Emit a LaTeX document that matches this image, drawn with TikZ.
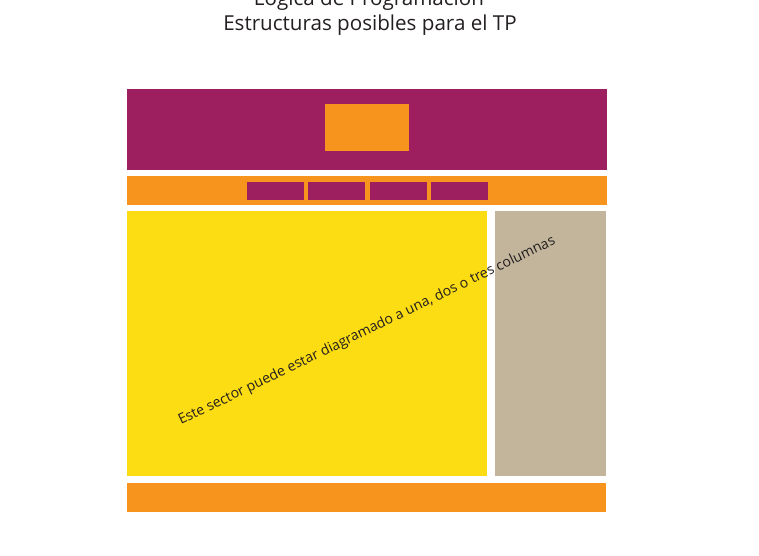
\documentclass[tikz,border=0pt]{standalone}
\usepackage{fontspec}
\setmainfont{Open Sans}
\definecolor{violeta}{HTML}{9E1F5F}
\definecolor{naranja}{HTML}{F7941E}
\definecolor{amarillo}{HTML}{FCDC12}
\definecolor{arena}{HTML}{C2B59B}
\definecolor{tinta}{HTML}{231F20}
\begin{document}
\begin{tikzpicture}[x=1pt,y=-1pt]
			% Styles (MODIFIABLES)
			\tikzstyle{bloc}=[anchor=north west,inner sep=0pt,outer sep=0pt]
			\tikzstyle{titre}=[text=tinta,font=\fontsize{20.6}{24}\selectfont,anchor=base,inner sep=0pt]
			\tikzstyle{commentaire}=[text=tinta,font=\fontsize{14.1}{16}\selectfont,inner sep=0pt]
			% Dimensions (MODIFIABLES)
			\def\Gauche{127}
			\def\Largeur{480}
			\def\LargeurBouton{57}
			% Cadre
			\useasboundingbox (0,0) rectangle (759,555);
			\clip (0,0) rectangle (759,555);
			% Titre
			\node[titre] (titreA) at (369,5) {Lógica de Programación};
			\node[titre] (titreB) at (370,30) {Estructuras posibles para el TP};
			% Blocs
			\node[bloc,fill=violeta,minimum width=\Largeur,minimum height=81] (entete) at (\Gauche,89) {};
			\node[bloc,fill=naranja,minimum width=84,minimum height=47] (logo) at (325,104) {};
			\node[bloc,fill=naranja,minimum width=\Largeur,minimum height=29] (menu) at (\Gauche,176) {};
			\node[bloc,fill=violeta,minimum width=\LargeurBouton,minimum height=18] (boutonA) at (247,182) {};
			\node[bloc,fill=violeta,minimum width=\LargeurBouton,minimum height=18] (boutonB) at (308,182) {};
			\node[bloc,fill=violeta,minimum width=\LargeurBouton,minimum height=18] (boutonC) at (370,182) {};
			\node[bloc,fill=violeta,minimum width=\LargeurBouton,minimum height=18] (boutonD) at (431,182) {};
			\node[bloc,fill=amarillo,minimum width=360,minimum height=265] (contenu) at (\Gauche,211) {};
			\node[bloc,fill=arena,minimum width=111,minimum height=265] (lateral) at (495,211) {};
			\node[bloc,fill=naranja,minimum width=479,minimum height=29] (pied) at (\Gauche,483) {};
			% Texte
			\node[commentaire,rotate=25.8] (note) at (367,331) {Este sector puede estar diagramado a una, dos o tres columnas};
		\end{tikzpicture}
\end{document}
